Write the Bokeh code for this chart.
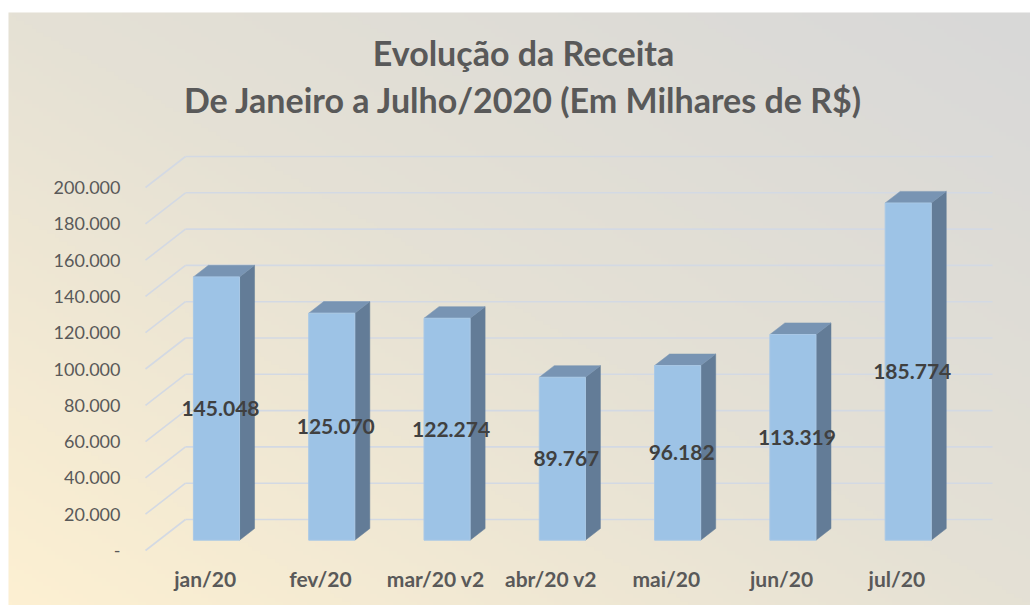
import numpy as np
from bokeh.plotting import figure
from bokeh.models import Range1d, ColumnDataSource, Label
from bokeh.core.properties import value
from bokeh.embed import file_html
from bokeh.resources import INLINE

# ---------------- data ----------------
months = ["jan/20", "fev/20", "mar/20 v2", "abr/20 v2", "mai/20", "jun/20", "jul/20"]
receita = [145048, 125070, 122274, 89767, 96182, 113319, 185774]
tick_values = [0, 20000, 40000, 60000, 80000, 100000, 120000, 140000, 160000, 180000, 200000]
tick_labels = ["-", "20.000", "40.000", "60.000", "80.000", "100.000", "120.000",
               "140.000", "160.000", "180.000", "200.000"]
title_line1 = "Evolução da Receita"
title_line2 = "De Janeiro a Julho/2020 (Em Milhares de R$)"

# ---------------- layout constants ----------------
W, H = 1030, 605
ORIG_X, ORIG_Y = 145, 550          # screen position of front-left floor corner
PX_X = 115.29                      # pixels per category
PX_V = 0.001815                    # pixels per value unit
DEPTH_X = 40 / PX_X                # 3D depth offset (x units)
DEPTH_V = 31 / PX_V                # 3D depth offset (value units)
FX, FV = DEPTH_X / 3, DEPTH_V / 3  # bar front plane offset
BX, BV = 15 / PX_X, 11.6 / PX_V    # bar depth
BAR_W = 0.4


def sx(px):
    return -0.5 + (px - ORIG_X) / PX_X


def sy(py):
    return (ORIG_Y - py) / PX_V


p = figure(width=W, height=H, output_backend="svg", toolbar_location=None,
           x_axis_location=None, y_axis_location=None,
           x_range=Range1d(sx(0), sx(W)), y_range=Range1d(sy(H), sy(0)),
           min_border=0, outline_line_color=None,
           background_fill_color="white", border_fill_color="white")
p.grid.visible = False

# ---------------- gradient background ----------------
rows, cols = 150, 260
fy = np.linspace(0, 1, rows)[:, None]
fx = np.linspace(0, 1, cols)[None, :]
t = (fx + fy) / 2.0
stops_t = [0.0, 0.5, 1.0]
stops_c = [(253, 240, 210), (229, 225, 213), (216, 216, 216)]
img = np.empty((rows, cols), dtype=np.uint32)
view = img.view(dtype=np.uint8).reshape((rows, cols, 4))
for k in range(3):
    view[:, :, k] = np.interp(t, stops_t, [c[k] for c in stops_c]).astype(np.uint8)
view[:, :, 3] = 255
p.image_rgba(image=[img], x=sx(8), y=sy(H), dw=(W - 8) / PX_X, dh=(H - 12) / PX_V)

# ---------------- 3D grid lines ----------------
n = len(months)
x_left = -0.5
x_right = n - 0.5
grid_col = "#d3d9e3"
p.segment(x0=[x_left] * len(tick_values), y0=tick_values,
          x1=[x_left + DEPTH_X] * len(tick_values), y1=[v + DEPTH_V for v in tick_values],
          line_color=grid_col, line_width=1.6)
p.segment(x0=[x_left + DEPTH_X] * len(tick_values), y0=[v + DEPTH_V for v in tick_values],
          x1=[x_right + DEPTH_X] * len(tick_values), y1=[v + DEPTH_V for v in tick_values],
          line_color=grid_col, line_width=1.6)

# ---------------- bars ----------------
xs_idx = list(range(n))
left = [i - BAR_W / 2 + FX for i in xs_idx]
right = [i + BAR_W / 2 + FX for i in xs_idx]
top = [v + FV for v in receita]

side_xs = [[r, r + BX, r + BX, r] for r in right]
side_ys = [[FV, FV + BV, tp + BV, tp] for tp in top]
top_xs = [[l, r, r + BX, l + BX] for l, r in zip(left, right)]
top_ys = [[tp, tp, tp + BV, tp + BV] for tp in top]

p.patches(xs=side_xs, ys=side_ys, fill_color="#637c97", line_color="#637c97", line_width=0.5)
p.patches(xs=top_xs, ys=top_ys, fill_color="#7894b3", line_color="#7894b3", line_width=0.5)
p.quad(left=left, right=right, bottom=[FV] * n, top=top,
       fill_color="#9dc3e6", line_color="#a9c8e6", line_width=1)

# ---------------- data labels ----------------
lbl_src = ColumnDataSource(dict(
    x=[i + FX for i in xs_idx],
    y=[v / 2 + FV for v in receita],
    text=[f"{v:,}".replace(",", ".") for v in receita],
))
p.text(x="x", y="y", text="text", source=lbl_src, x_offset=4,
       text_align="center", text_baseline="middle",
       text_font=value("Lato"), text_font_style="bold",
       text_font_size="21px", text_color="#404040")

# ---------------- y tick labels ----------------
p.text(x=[x_left] * len(tick_values), y=tick_values, text=tick_labels,
       x_offset=-25, text_align="right", text_baseline="middle",
       text_font=value("Lato"), text_font_size="18px", text_color="#595959")

# ---------------- x category labels ----------------
p.text(x=xs_idx, y=[0] * n, text=months, x_offset=2, y_offset=28,
       text_align="center", text_baseline="middle",
       text_font=value("Lato"), text_font_style="bold",
       text_font_size="21px", text_color="#595959")

# ---------------- title ----------------
for txt, ypos in [(title_line1, 52), (title_line2, 99)]:
    p.add_layout(Label(x=523, y=H - ypos, x_units="screen", y_units="screen",
                       text=txt, text_align="center", text_baseline="middle",
                       text_font="Lato", text_font_style="bold",
                       text_font_size="34px", text_color="#595959"))

open("out.html", "w").write(file_html(p, INLINE))
